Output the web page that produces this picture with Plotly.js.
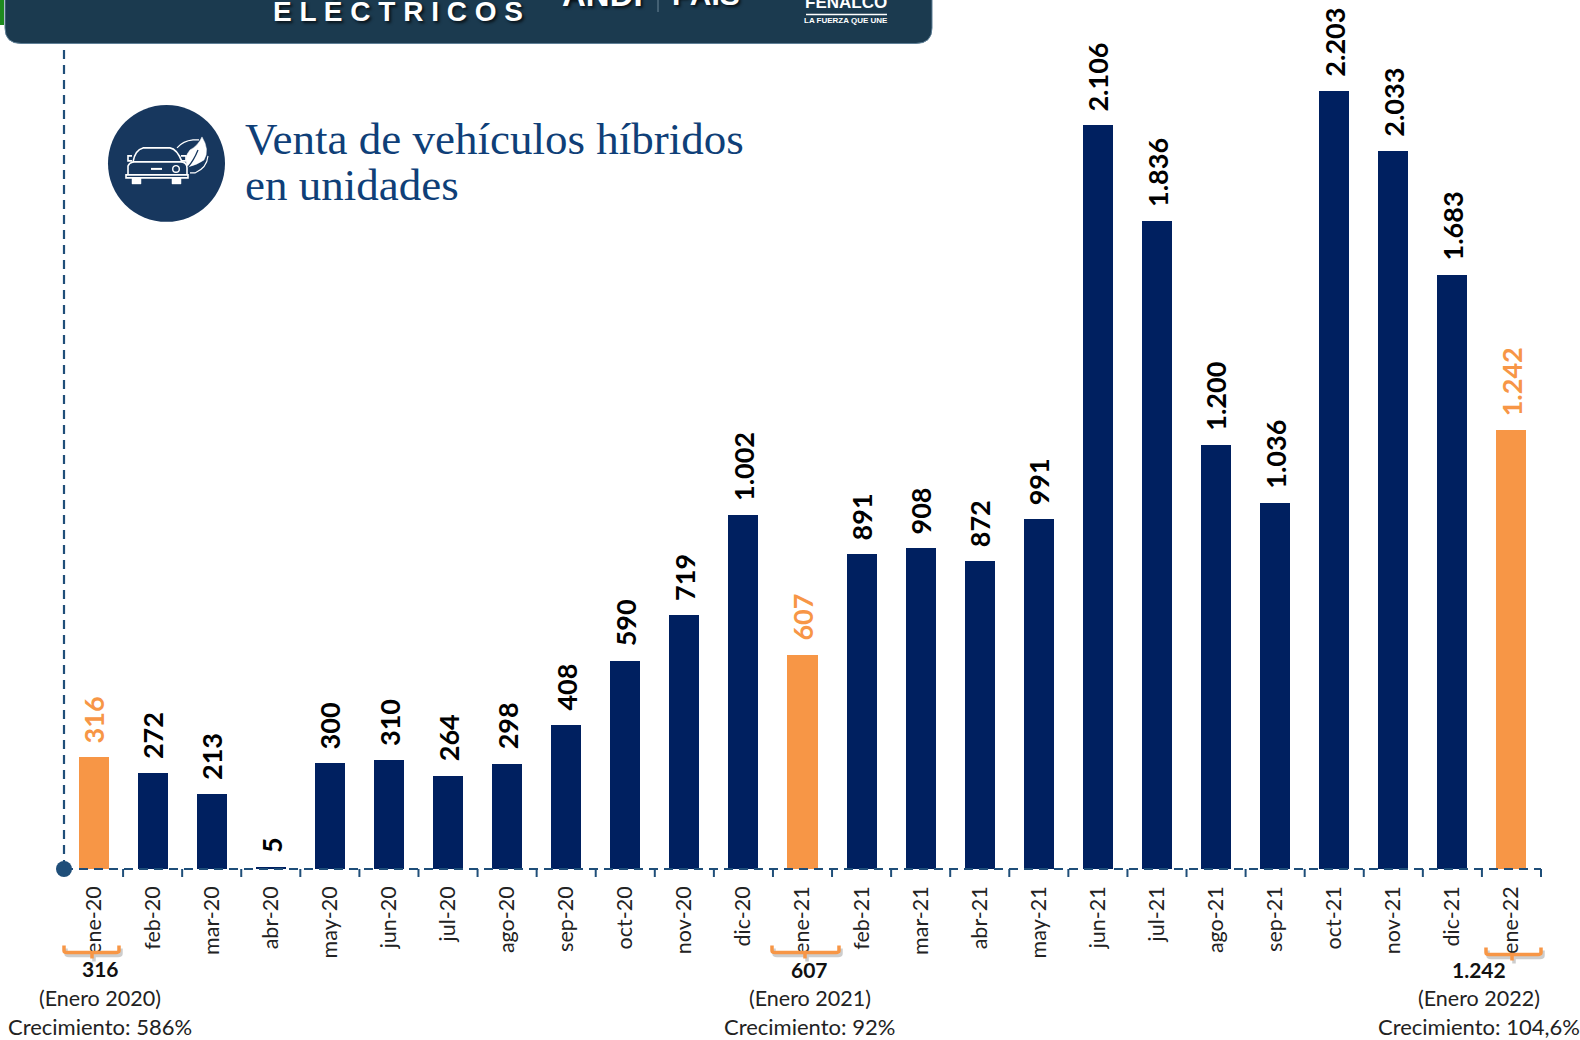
<!DOCTYPE html>
<html><head><meta charset="utf-8">
<script src="https://cdn.plot.ly/plotly-3.0.1.min.js"></script>
<style>html,body{margin:0;padding:0;background:#fff}#c{width:1580px;height:1040px}</style>
</head><body><div id="c"></div>
<script>
const months = ["ene-20","feb-20","mar-20","abr-20","may-20","jun-20","jul-20","ago-20","sep-20","oct-20","nov-20","dic-20","ene-21","feb-21","mar-21","abr-21","may-21","jun-21","jul-21","ago-21","sep-21","oct-21","nov-21","dic-21","ene-22"];
const sales = [316,272,213,5,300,310,264,298,408,590,719,1002,607,891,908,872,991,2106,1836,1200,1036,2203,2033,1683,1242];
const valueLabels = ["316","272","213","5","300","310","264","298","408","590","719","1.002","607","891","908","872","991","2.106","1.836","1.200","1.036","2.203","2.033","1.683","1.242"];
const highlighted = ["ene-20","ene-21","ene-22"];
const navy="#002060", orange="#F79646", axisBlue="#1F4E79", ink="#111111";

const L=64,R=1541,B=869.5;
const fx=p=>(p-L)/(R-L), fy=p=>(B-p)/B;
const toPaper=d=>d.replace(/(-?[\d.]+),(-?[\d.]+)/g,(m,a,b)=>fx(+a).toFixed(5)+","+fy(+b).toFixed(5));
const pathShape=(d,o)=>Object.assign({type:"path",xref:"paper",yref:"paper",path:toPaper(d),layer:"above"},o);
const white={line:{color:"#fff",width:1.6}};

const note=(text,px,py,size,opt={})=>Object.assign({xref:"paper",yref:"paper",x:fx(px),y:fy(py),text,showarrow:false,
  xanchor:"center",yanchor:"middle",font:Object.assign({family:"Lato, sans-serif",size,color:ink},opt.font||{})},opt.a||{});

const annotations=[];
months.forEach((m,i)=>annotations.push({x:i,y:sales[i],xref:"x",yref:"y",text:"<b>"+valueLabels[i]+"</b>",showarrow:false,
  textangle:-90,xanchor:"center",yanchor:"bottom",yshift:12,
  font:{family:"Lato, sans-serif",size:27,color:highlighted.includes(m)?orange:"#000"}}));

// title
const titleFont={font:{family:"Liberation Serif, serif",size:45,color:"#0F3F78"},a:{xanchor:"left"}};
annotations.push(note("Venta de vehículos híbridos",243,139,45,titleFont));
annotations.push(note("en unidades",243,185,45,titleFont));

// header
const hdr={font:{family:"Liberation Sans Narrow, Liberation Sans, sans-serif",color:"#fff",shadow:"2px 2px 3px rgba(0,0,0,.7)"}};
annotations.push(note("<b>E L É C T R I C O S</b>",398,12,28,hdr));
annotations.push(note("<b>ANDI</b>",602,-6,33,hdr));
annotations.push(note("<b>PAIS</b>",706,-6,30,hdr));
annotations.push(note("<b>FENALCO</b>",846,3,17,{font:{family:"Liberation Sans Narrow, sans-serif",color:"#fff"}}));
annotations.push(note("<b>LA FUERZA QUE UNE</b>",846,21,8,{font:{family:"Liberation Sans Narrow, sans-serif",color:"#fff"}}));

// callouts
const callouts=[
 {cx:100,v:"316",p:"(Enero 2020)",g:"Crecimiento: 586%",vy:969,py:999,gy:1027},
 {cx:810,v:"607",p:"(Enero 2021)",g:"Crecimiento: 92%",vy:970,py:999,gy:1027},
 {cx:1479,v:"1.242",p:"(Enero 2022)",g:"Crecimiento: 104,6%",vy:970,py:999,gy:1027}];
callouts.forEach(c=>{
  annotations.push(note("<b>"+c.v+"</b>",c.cx,c.vy,21));
  annotations.push(note(c.p,c.cx,c.py,21.5,{font:{color:"#222"}}));
  annotations.push(note(c.g,c.cx,c.gy,22,{font:{color:"#222"}}));
});

const brace=(x0,x1,y,xm)=>`M${x0},${y-5} L${x0},${y} Q${x0},${y+2} ${x0+3},${y+2} L${x1-3},${y+2} Q${x1},${y+2} ${x1},${y} L${x1},${y-5} M${xm},${y+2} L${xm},${y+8}`;
const braces=[[64,119,951,92],[772,839,951,805],[1486,1541,953,1512]];

const shapes=[
 // header
 pathShape("M5,-20 L5,28 Q5,43.5 21,43.5 L916,43.5 Q932,43.5 932,28 L932,-20 Z",{fillcolor:"#1B3A4F",line:{color:"#5E7F96",width:1},layer:"above"}),
 pathShape("M0,0 L4,0 L4,25 L0,25 Z",{fillcolor:"#1E8A1E",line:{width:0}}),
 pathShape("M658,0 L658,12",{line:{color:"#6D8698",width:1}}),
 pathShape("M806,14.5 L887,14.5",{line:{color:"#fff",width:1.5}}),
 // axis lines, dashed
 {type:"line",xref:"paper",yref:"paper",x0:0,x1:0,y0:0,y1:fy(44),line:{color:axisBlue,width:2.2,dash:"9px,6px"},layer:"above"},
 {type:"line",xref:"paper",yref:"paper",x0:0,x1:1,y0:0,y1:0,line:{color:axisBlue,width:1.8,dash:"9px,6px"},layer:"above"},
 // icon
 {type:"circle",xref:"paper",yref:"paper",x0:fx(108),x1:fx(225),y0:fy(222),y1:fy(105),fillcolor:"#17375E",line:{width:0},layer:"above"},
 pathShape("M128,175 L128,166 Q129,163 133,162 Q135,150 143,148 L170,148 Q177,149 182,162 Q187,163 187,168 L187,175",Object.assign({},white)),
 pathShape("M126,175 L188,175 L188,178 L126,178 Z M133,162 L182,162",Object.assign({},white)),
 pathShape("M151,169 L162,169",{line:{color:"#fff",width:2}}),
 pathShape("M132,178 L141,178 L141,184 L132,184 Z M172,178 L181,178 L181,184 L172,184 Z",{fillcolor:"#fff",line:{color:"#fff",width:0.5}}),
 pathShape("M132,156 L128,156 L128,161 L132,161 M181,156 L186,156 L186,161 L182,161",Object.assign({},white)),
 {type:"circle",xref:"paper",yref:"paper",x0:fx(172.7),x1:fx(179.3),y0:fy(172.3),y1:fy(165.7),line:{color:"#fff",width:1.4},layer:"above"},
 pathShape("M188,167 Q183,158 190,150 Q198,146 202,137 Q210,150 204,160 Q197,165 188,167 Z",{fillcolor:"#fff",line:{color:"#fff",width:0.5}}),
 pathShape("M188,167 Q194,160 198,150",{line:{color:"#17375E",width:1.3}}),
 pathShape("M177,148 Q183,141 193,140 L199,140 M208,156 Q207,168 195,173 L190,173",{line:{color:"#fff",width:1.1}}),
];
braces.forEach(b=>{
  shapes.push(pathShape(brace(b[0]+2,b[1]+2,b[2]+3,b[3]+2),{line:{color:"rgba(90,90,90,.3)",width:3.5}}));
});
braces.forEach(b=>{
  shapes.push(pathShape(brace(b[0],b[1],b[2],b[3]),{line:{color:orange,width:3.5}}));
});

const traces=[
 {type:"bar",x:months.map((m,i)=>i),y:sales,width:0.508,marker:{color:months.map(m=>highlighted.includes(m)?orange:navy),line:{width:0}},hoverinfo:"skip",showlegend:false},
 {type:"scatter",mode:"markers",x:[-0.5],y:[0],marker:{color:"#1F4E79",size:16},cliponaxis:false,hoverinfo:"skip",showlegend:false}
];
const layout={width:1580,height:1040,margin:{l:L,r:1580-R,t:0,b:1040-B,pad:0},paper_bgcolor:"#fff",plot_bgcolor:"#fff",showlegend:false,
 xaxis:{type:"linear",range:[-0.5,24.5],tickmode:"array",tickvals:months.map((m,i)=>i),ticktext:months,showline:false,showgrid:false,zeroline:false,ticks:"",
   tickangle:-90,ticklabelstandoff:12,tickfont:{family:"Lato, sans-serif",size:21.5,color:"#222"},ticklen:0},
 yaxis:{range:[0,B/0.3534],visible:false,showgrid:false,zeroline:false},
 annotations,shapes,bargap:0};
// tick marks between months
for(let i=0;i<=24;i++)shapes.push({type:"line",xref:"paper",yref:"paper",x0:(i+1)/25,x1:(i+1)/25,y0:0,y1:-8/B,line:{color:axisBlue,width:2},layer:"above"});
Plotly.newPlot("c",traces,layout,{displayModeBar:false,staticPlot:true});
</script></body></html>
